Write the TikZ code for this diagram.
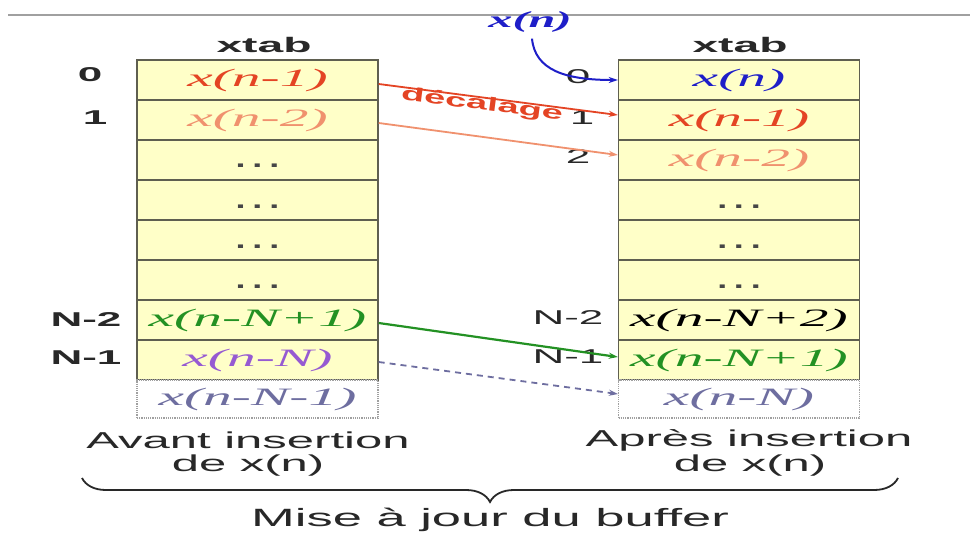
\documentclass[tikz,border=0pt]{standalone}
\usepackage{fontspec}
\setmainfont{Liberation Serif}
\setsansfont{Liberation Sans}
\usetikzlibrary{arrows.meta,decorations.pathreplacing}
\definecolor{cellfill}{RGB}{255,255,200}
\definecolor{cellborder}{RGB}{95,95,80}
\definecolor{ghostborder}{RGB}{160,160,160}
\definecolor{cred}{RGB}{228,68,36}
\definecolor{csalmon}{RGB}{240,145,110}
\definecolor{cblue}{RGB}{30,30,200}
\definecolor{cgreen}{RGB}{35,145,35}
\definecolor{cpurple}{RGB}{150,90,210}
\definecolor{cghost}{RGB}{110,110,160}
\definecolor{cdots}{RGB}{70,70,70}
\definecolor{ctext}{RGB}{40,40,40}
\newcommand\SX[1]{\scalebox{2.2}[1]{#1}}
\newcommand\MX[1]{\scalebox{2.3}[1]{\itshape #1}}
\tikzset{
  cell/.style={draw=cellborder, fill=cellfill, line width=1.4pt, minimum width=241pt, minimum height=40pt, inner sep=0pt, font=\fontsize{25}{27}\selectfont},
  ghost/.style={draw=ghostborder, densely dotted, fill=white, line width=1.2pt, minimum width=241pt, minimum height=38pt, inner sep=0pt, font=\fontsize{25}{27}\selectfont},
  title/.style={font=\sffamily\bfseries\fontsize{21}{24}\selectfont, text=ctext, inner sep=0pt},
  idxb/.style={font=\sffamily\bfseries\fontsize{20}{22}\selectfont, text=ctext, inner sep=0pt},
  idx/.style={font=\sffamily\fontsize{20}{22}\selectfont, text=ctext, inner sep=0pt},
  caption/.style={font=\sffamily\fontsize{23}{26}\selectfont, text=ctext, inner sep=0pt},
  shiftarrow/.style={line width=1.8pt, -{Stealth[length=9pt,width=6pt]}},
}
\newcommand\DOTS{\raisebox{-8pt}[0pt][0pt]{\scalebox{1.5}[1]{\textcolor{cdots}{\sffamily\bfseries\fontsize{24}{24}\selectfont .\kern4.5pt.\kern4.5pt.}}}}
\begin{document}
\begin{tikzpicture}[x=1pt,y=-1pt]
\useasboundingbox (0,0) rectangle (970,535);
\fill[white] (0,0) rectangle (970,535);
\draw[line width=1.5pt, color=ghostborder] (8,15) -- (970,15);

% left table
\node[title] (tl) at (264,45) {\SX{xtab}};
\node[cell] (L0) at (257.5,80)  {\MX{\textcolor{cred}{x(n-1)}}};
\node[cell] (L1) at (257.5,120) {\MX{\textcolor{csalmon}{x(n-2)}}};
\node[cell] (L2) at (257.5,160) {\DOTS};
\node[cell] (L3) at (257.5,200) {\DOTS};
\node[cell] (L4) at (257.5,240) {\DOTS};
\node[cell] (L5) at (257.5,280) {\DOTS};
\node[cell] (L6) at (257.5,320) {\MX{\textcolor{cgreen}{x(n-N+1)}}};
\node[cell] (L7) at (257.5,360) {\MX{\textcolor{cpurple}{x(n-N)}}};
\node[ghost] (L8) at (257.5,399) {\MX{\textcolor{cghost}{x(n-N-1)}}};

% right table
\node[title] (tr) at (740,45) {\SX{xtab}};
\node[cell] (R0) at (739,80)  {\MX{\textcolor{cblue}{x(n)}}};
\node[cell] (R1) at (739,120) {\MX{\textcolor{cred}{x(n-1)}}};
\node[cell] (R2) at (739,160) {\MX{\textcolor{csalmon}{x(n-2)}}};
\node[cell] (R3) at (739,200) {\DOTS};
\node[cell] (R4) at (739,240) {\DOTS};
\node[cell] (R5) at (739,280) {\DOTS};
\node[cell] (R6) at (739,320) {\MX{\textcolor{black}{x(n-N+2)}}};
\node[cell] (R7) at (739,360) {\MX{\textcolor{cgreen}{x(n-N+1)}}};
\node[ghost] (R8) at (739,399) {\MX{\textcolor{cghost}{x(n-N)}}};

% left indices
\node[idxb] (il0) at (90,75)  {\SX{0}};
\node[idxb] (il1) at (95,118) {\SX{1}};
\node[idxb] (il6) at (86,320) {\SX{N-2}};
\node[idxb] (il7) at (86,358) {\SX{N-1}};

% right indices
\node[idx] (ir0) at (578,77)  {\SX{0}};
\node[idx] (ir1) at (582,118) {\SX{1}};
\node[idx] (ir2) at (578,157) {\SX{2}};
\node[idx] (ir6) at (568,318) {\SX{N-2}};
\node[idx] (ir7) at (568,357) {\SX{N-1}};

% shift arrows
\draw[shiftarrow, color=cred] ([yshift=-4pt]L0.east) -- ([yshift=5pt]R1.west);
\draw[shiftarrow, color=csalmon] ([yshift=-3pt]L1.east) -- ([yshift=5pt]R2.west);
\draw[shiftarrow, color=cgreen, line width=2.2pt] ([yshift=-3pt]L6.east) -- ([yshift=3pt]R7.west);
\draw[shiftarrow, color=cghost, dash pattern=on 6pt off 5pt] ([yshift=-2pt]L7.east) -- ([yshift=5pt]R8.west);
\node[font=\sffamily\bfseries\fontsize{19}{22}\selectfont, text=cred, rotate=-7.4, inner sep=0pt] (dec) at (482,105) {\scalebox{2.0}[1]{décalage}};

% new sample
\node[font=\bfseries\itshape\fontsize{23}{26}\selectfont, text=cblue, inner sep=0pt] (xn) at (530,22) {\scalebox{2.1}[1]{x(n)}};
\draw[color=cblue, line width=2pt, -{Stealth[length=9pt,width=6pt]}] ([xshift=2pt,yshift=-6pt]xn.south) .. controls (535,70) and (565,80) .. (R0.west);

% captions
\node[caption] (capl) at (248,440) {\scalebox{2.13}[1]{Avant insertion}};
\node[caption] (capl2) at (248,466) {\scalebox{2.13}[1]{de x(n)}};
\node[caption] (capr) at (749,440) {\scalebox{2.13}[1]{Après insertion}};
\node[caption] (capr2) at (750,466) {\scalebox{2.13}[1]{de x(n)}};

\coordinate (bl) at (82,478);
\coordinate (br) at (898,478);
\draw[line width=1.8pt, color=ctext, decorate, decoration={brace, amplitude=24pt, mirror}] (bl) -- (br);
\node[font=\sffamily\fontsize{25}{28}\selectfont, text=ctext, inner sep=0pt] (mise) at (490,520) {\scalebox{2.1}[1]{Mise à jour du buffer}};
\end{tikzpicture}
\end{document}
